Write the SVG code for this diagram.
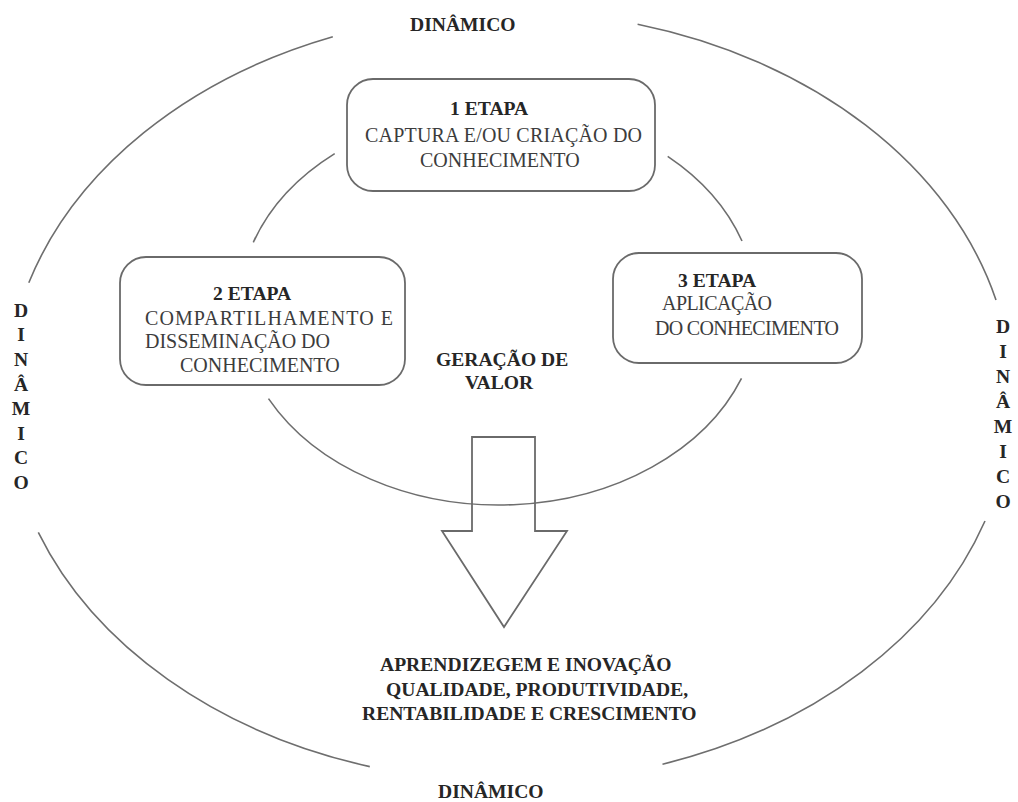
<svg xmlns="http://www.w3.org/2000/svg" width="1018" height="802" viewBox="0 0 1018 802">
<style>
.arc{fill:none;stroke:#6e6e6e;stroke-width:1.6}
.box{fill:#fff;stroke:#6a6a6a;stroke-width:1.8}
.t{font-family:"Liberation Serif","Times New Roman",serif;font-size:20px;fill:#3c3c3c}
.b{font-family:"Liberation Serif","Times New Roman",serif;font-size:19.6px;font-weight:bold;fill:#262626}
.v{text-anchor:middle}
</style>
<rect width="1018" height="802" fill="#fff"/>
<g id="connectors">
<path class="arc" d="M332.8,36.8 A505,385 0 0 0 28.8,282.7"/>
<path class="arc" d="M38.3,532.4 A505,385 0 0 0 369.8,766.6"/>
<path class="arc" d="M662.5,764.3 A505,385 0 0 0 985,521"/>
<path class="arc" d="M996,300 A505,385 0 0 0 637.6,24.3"/>
<path class="arc" d="M334.7,153.6 A260,198 0 0 0 253.3,242.3"/>
<path class="arc" d="M667.7,156.3 A260,198 0 0 1 742,241"/>
<path class="arc" d="M268.5,398.6 A260,198 0 0 0 741.5,378.4"/>
</g>
<g id="arrow">
<polygon points="472,437 535,437 535,531 567,531 504,627 442,531 472,531" fill="none" stroke="#6a6a6a" stroke-width="1.8" stroke-linejoin="miter"/>
</g>
<g id="etapa1">
<rect class="box" x="347" y="79" width="308" height="112" rx="26"/>
<text class="b" x="450" y="115">1 ETAPA</text>
<text class="t" x="365" y="142" textLength="277">CAPTURA E/OU CRIAÇÃO DO</text>
<text class="t" x="420" y="167">CONHECIMENTO</text>
</g>
<g id="etapa2">
<rect class="box" x="120" y="257" width="285" height="128" rx="26"/>
<text class="b" x="213" y="300">2 ETAPA</text>
<text class="t" x="145" y="325" textLength="248">COMPARTILHAMENTO E</text>
<text class="t" x="145" y="348">DISSEMINAÇÃO DO</text>
<text class="t" x="180" y="372">CONHECIMENTO</text>
</g>
<g id="etapa3">
<rect class="box" x="613" y="253" width="249" height="110" rx="26"/>
<text class="b" x="678" y="287">3 ETAPA</text>
<text class="t" x="662" y="310" textLength="110">APLICAÇÃO</text>
<text class="t" x="655" y="335" textLength="184">DO CONHECIMENTO</text>
</g>
<g id="geracao">
<text class="b" x="436" y="366">GERAÇÃO DE</text>
<text class="b" x="465" y="389">VALOR</text>
</g>
<g id="resultado">
<text class="b" x="380" y="671">APRENDIZEGEM E INOVAÇÃO</text>
<text class="b" x="386" y="696">QUALIDADE, PRODUTIVIDADE,</text>
<text class="b" x="362" y="720">RENTABILIDADE E CRESCIMENTO</text>
</g>
<g id="dinamico-top"><text class="b" x="410" y="31">DINÂMICO</text></g>
<g id="dinamico-bottom"><text class="b" x="438" y="798">DINÂMICO</text></g>
<g id="dinamico-left">
<text class="b v" font-size="18"><tspan x="21" y="317">D</tspan><tspan x="21" y="341">I</tspan><tspan x="21" y="366">N</tspan><tspan x="21" y="391">Â</tspan><tspan x="21" y="415">M</tspan><tspan x="21" y="440">I</tspan><tspan x="21" y="464">C</tspan><tspan x="21" y="489">O</tspan></text>
</g>
<g id="dinamico-right">
<text class="b v" font-size="18"><tspan x="1003" y="333">D</tspan><tspan x="1003" y="358">I</tspan><tspan x="1003" y="383">N</tspan><tspan x="1003" y="408">Â</tspan><tspan x="1003" y="433">M</tspan><tspan x="1003" y="458">I</tspan><tspan x="1003" y="483">C</tspan><tspan x="1003" y="508">O</tspan></text>
</g>
</svg>
